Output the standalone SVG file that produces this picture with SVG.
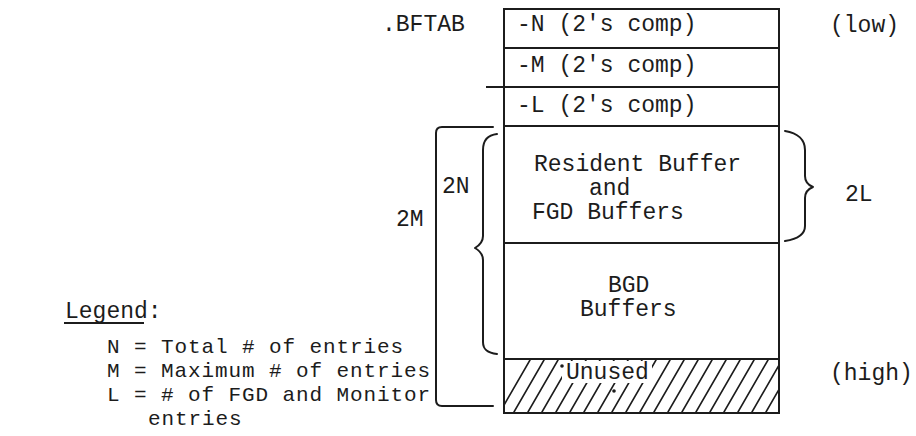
<svg xmlns="http://www.w3.org/2000/svg" width="916" height="436" viewBox="0 0 916 436">
<style>
  text { font-family: "Liberation Mono", "Courier New", monospace; font-size: 23px; fill: #1c1c1c; }
  .lg { font-size: 21px; letter-spacing: 0.9px; }
  .ln { stroke: #1c1c1c; stroke-width: 2; fill: none; stroke-linecap: square; }
  .br { stroke: #1c1c1c; stroke-width: 2; fill: none; stroke-linecap: round; stroke-linejoin: round; }
  .ht { stroke: #1c1c1c; stroke-width: 1.6; fill: none; stroke-linecap: round; }
</style>
<defs>
  <clipPath id="unusedClip"><rect x="505" y="360" width="273" height="52"/></clipPath>
</defs>
<rect width="916" height="436" fill="#ffffff"/>

<g id="bftab-label"><text x="382" y="31">.BFTAB</text></g>
<g id="low-label"><text x="830" y="32">(low)</text></g>
<g id="high-label"><text x="830" y="380">(high)</text></g>

<g id="table">
  <rect class="ln" x="504" y="9" width="275" height="404"/>
  <line class="ln" x1="504" y1="48" x2="779" y2="48"/>
  <line class="ln" x1="487" y1="87" x2="779" y2="87"/>
  <line class="ln" x1="504" y1="126" x2="779" y2="126"/>
  <line class="ln" x1="504" y1="243" x2="779" y2="243"/>
  <line class="ln" x1="504" y1="359" x2="779" y2="359"/>
</g>

<g id="row-n"><text x="517" y="31">-N (2's comp)</text></g>
<g id="row-m"><text x="517" y="72">-M (2's comp)</text></g>
<g id="row-l"><text x="517" y="112">-L (2's comp)</text></g>
<g id="row-fgd">
  <text x="534" y="171">Resident Buffer</text>
  <text x="589" y="195">and</text>
  <text x="532" y="219">FGD Buffers</text>
</g>
<g id="row-bgd">
  <text x="608" y="292">BGD</text>
  <text x="580" y="316">Buffers</text>
</g>
<g id="row-unused">
  <g clip-path="url(#unusedClip)">
    <path class="ht" d="M500,412 L530,360 M514,412 L544,360 M528,412 L558,360 M542,412 L572,360 M556,412 L586,360 M570,412 L600,360 M584,412 L614,360 M598,412 L628,360 M612,412 L642,360 M626,412 L656,360 M640,412 L670,360 M654,412 L684,360 M668,412 L698,360 M682,412 L712,360 M696,412 L726,360 M710,412 L740,360 M724,412 L754,360 M738,412 L768,360 M752,412 L782,360 M766,412 L796,360"/>
  </g>
  <rect x="562" y="361" width="90" height="22" fill="#ffffff"/>
  <circle cx="562" cy="366" r="1.8" fill="#1c1c1c"/>
  <circle cx="614" cy="391" r="1.8" fill="#1c1c1c"/>
  <text x="566" y="379">Unused</text>
</g>

<g id="label-2n"><text x="442" y="193">2N</text></g>
<g id="label-2m"><text x="396" y="226">2M</text></g>
<g id="label-2l"><text x="845" y="201">2L</text></g>

<g id="connectors">
  <path id="bracket-2m" class="br" d="M493,127 L442,127 Q436,127 436,133 L436,400 Q436,406 442,406 L493,406"/>
  <path id="brace-2n" class="br" d="M497,134 C488,135 483,140 483,150 L483,236 C483,242 480,245 475,248 C480,251 483,254 483,260 L483,342 C483,350 488,353 497,354"/>
  <path id="brace-2l" class="br" d="M785,131 C798,133 805,140 805,150 L805,176 C805,182 808,185 813,187 C808,189 805,192 805,198 L805,226 C805,234 798,239 785,241"/>
</g>

<g id="legend">
  <text x="65" y="318">Legend:</text>
  <line class="ln" x1="65" y1="323" x2="143" y2="323"/>
  <text class="lg" x="107" y="353">N = Total # of entries</text>
  <text class="lg" x="107" y="377">M = Maximum # of entries</text>
  <text class="lg" x="107" y="401">L = # of FGD and Monitor</text>
  <text class="lg" x="148" y="425">entries</text>
</g>
</svg>
